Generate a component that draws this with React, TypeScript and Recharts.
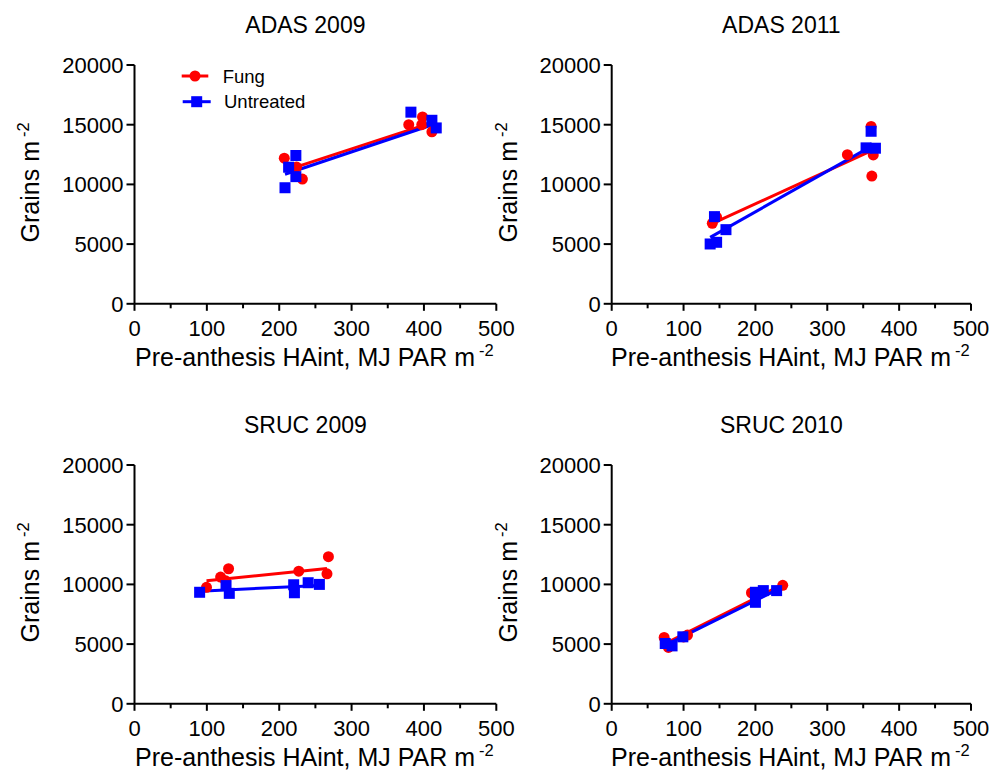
import React from 'react';
import { ScatterChart, Scatter, XAxis, YAxis, ReferenceLine, Legend, Label } from 'recharts';

const FONT = '"Liberation Sans", Arial, Helvetica, sans-serif';
const RED = '#ff0000';
const BLUE = '#0000ff';

type Pt = { hai: number; grains: number };

// Axis ticks
const xTicks = [0, 50, 100, 150, 200, 250, 300, 350, 400, 450, 500];
const xLabelled = [0, 100, 200, 300, 400, 500];
const yTicks = [0, 5000, 10000, 15000, 20000];

// ADAS 2009
const adas2009Fung: Pt[] = [
  { hai: 207, grains: 12200 }, { hai: 224, grains: 11450 }, { hai: 232, grains: 10450 },
  { hai: 379, grains: 15000 }, { hai: 398, grains: 15650 }, { hai: 397, grains: 15000 },
  { hai: 411, grains: 14400 },
];
const adas2009Untreated: Pt[] = [
  { hai: 208, grains: 9720 }, { hai: 213, grains: 11440 }, { hai: 223, grains: 12420 },
  { hai: 223, grains: 10650 }, { hai: 382, grains: 16050 }, { hai: 411, grains: 15370 },
  { hai: 417, grains: 14730 },
];
const adas2009FungFit: Pt[] = [{ hai: 207, grains: 11130 }, { hai: 410, grains: 15150 }];
const adas2009UntreatedFit: Pt[] = [{ hai: 208, grains: 10850 }, { hai: 417, grains: 15100 }];

// ADAS 2011
const adas2011Fung: Pt[] = [
  { hai: 140, grains: 6740 }, { hai: 146, grains: 7250 }, { hai: 328, grains: 12490 },
  { hai: 361, grains: 14850 }, { hai: 364, grains: 12470 }, { hai: 362, grains: 10700 },
];
const adas2011Untreated: Pt[] = [
  { hai: 143, grains: 7300 }, { hai: 137, grains: 5010 }, { hai: 146, grains: 5150 },
  { hai: 159, grains: 6210 }, { hai: 354, grains: 13060 }, { hai: 361, grains: 14450 },
  { hai: 367, grains: 13030 },
];
const adas2011FungFit: Pt[] = [{ hai: 139, grains: 6690 }, { hai: 364, grains: 12900 }];
const adas2011UntreatedFit: Pt[] = [{ hai: 137, grains: 5560 }, { hai: 363, grains: 13250 }];

// SRUC 2009
const sruc2009Fung: Pt[] = [
  { hai: 99.5, grains: 9760 }, { hai: 119, grains: 10610 }, { hai: 130, grains: 11310 },
  { hai: 126, grains: 10300 }, { hai: 227, grains: 11110 }, { hai: 266, grains: 10890 },
  { hai: 268, grains: 12320 },
];
const sruc2009Untreated: Pt[] = [
  { hai: 90, grains: 9340 }, { hai: 126.5, grains: 9900 }, { hai: 131, grains: 9250 },
  { hai: 220, grains: 9970 }, { hai: 221, grains: 9300 }, { hai: 240, grains: 10140 },
  { hai: 255.5, grains: 10000 },
];
const sruc2009FungFit: Pt[] = [{ hai: 99.5, grains: 10300 }, { hai: 266, grains: 11340 }];
const sruc2009UntreatedFit: Pt[] = [{ hai: 90, grains: 9430 }, { hai: 255.5, grains: 9910 }];

// SRUC 2010
const sruc2010Fung: Pt[] = [
  { hai: 73, grains: 5560 }, { hai: 79, grains: 4720 }, { hai: 105.5, grains: 5760 },
  { hai: 100, grains: 5600 }, { hai: 194.5, grains: 9300 }, { hai: 238, grains: 9920 },
];
const sruc2010Untreated: Pt[] = [
  { hai: 74.5, grains: 5050 }, { hai: 84, grains: 4850 }, { hai: 99, grains: 5610 },
  { hai: 200, grains: 8500 }, { hai: 200, grains: 9340 }, { hai: 211, grains: 9480 },
  { hai: 229.5, grains: 9480 },
];
const sruc2010FungFit: Pt[] = [{ hai: 73, grains: 5000 }, { hai: 238, grains: 10000 }];
const sruc2010UntreatedFit: Pt[] = [{ hai: 74, grains: 4900 }, { hai: 232, grains: 9600 }];

const W = 518;
const H = 400;
const YW = 100;
const XH = 70;
const PLOT_TOP = 65;
const PLOT_BOTTOM = 303.8;

const Dot = (p: any) => <circle cx={p.cx} cy={p.cy} r={5.5} fill={RED} />;
const Sq = (p: any) => <rect x={p.cx - 5.5} y={p.cy - 5.5} width={11} height={11} fill={BLUE} />;

const XTick = (p: any) => {
  const v = p.payload.value;
  const major = xLabelled.includes(v);
  return (
    <g>
      <line x1={p.x} x2={p.x} y1={p.y} y2={p.y + (major ? 7 : 4.5)} stroke="#000" strokeWidth={2} />
      {major && (
        <text x={p.x} y={p.y + 32.5} textAnchor="middle" fontSize={22} fontFamily={FONT} fill="#000">
          {v}
        </text>
      )}
    </g>
  );
};

const LegendBox = () => (
  <svg width={170} height={54} style={{ display: 'block' }}>
    <line x1={3.7} x2={30.3} y1={14} y2={14} stroke={RED} strokeWidth={3} />
    <circle cx={17} cy={14} r={5.5} fill={RED} />
    <text x={44.7} y={20.5} fontSize={18.5} fontFamily={FONT} fill="#000">Fung</text>
    <line x1={4.7} x2={32.7} y1={39.7} y2={39.7} stroke={BLUE} strokeWidth={3} />
    <rect x={13.2} y={34.2} width={11} height={11} fill={BLUE} />
    <text x={46} y={46.2} fontSize={18.5} fontFamily={FONT} fill="#000">Untreated</text>
  </svg>
);

type PanelProps = {
  title: string;
  left: number;
  top: number;
  plotLeft: number;
  plotRight: number;
  fung: Pt[];
  untreated: Pt[];
  fungFit: Pt[];
  untreatedFit: Pt[];
  showLegend?: boolean;
};

function Panel({ title, left, top, plotLeft, plotRight, fung, untreated, fungFit, untreatedFit, showLegend }: PanelProps) {
  const margin = { top: PLOT_TOP, left: plotLeft - YW, right: W - plotRight, bottom: H - PLOT_BOTTOM - XH };
  const cx = (plotLeft + plotRight) / 2;
  const cy = (PLOT_TOP + PLOT_BOTTOM) / 2 - 2;
  const yLabelX = plotLeft - 95;
  return (
    <div style={{ position: 'absolute', left, top, width: W, height: H }}>
      <ScatterChart width={W} height={H} margin={margin}>
        <XAxis
          type="number"
          dataKey="hai"
          domain={[0, 500]}
          ticks={xTicks}
          interval={0}
          height={XH}
          tickLine={false}
          tickSize={0}
          tickMargin={0}
          tick={<XTick />}
          axisLine={{ stroke: '#000', strokeWidth: 2 }}
        >
          <Label
            content={() => (
              <g>
                <text x={cx - 1} y={PLOT_BOTTOM + 62} textAnchor="middle" fontSize={25} fontFamily={FONT} fill="#000">
                  Pre-anthesis HAint, MJ PAR m<tspan dx={4} dy={-10} fontSize={16.5}>-2</tspan>
                </text>
                <text x={cx - 10} y={33} textAnchor="middle" fontSize={23} fontFamily={FONT} fill="#000">
                  {title}
                </text>
              </g>
            )}
          />
        </XAxis>
        <YAxis
          type="number"
          dataKey="grains"
          domain={[0, 20000]}
          ticks={yTicks}
          interval={0}
          width={YW}
          tickSize={8}
          tickMargin={3}
          tickLine={{ stroke: '#000', strokeWidth: 2 }}
          axisLine={{ stroke: '#000', strokeWidth: 2 }}
          tick={{ fill: '#000', fontSize: 22, fontFamily: FONT }}
        >
          <Label
            content={() => (
              <text
                x={yLabelX}
                y={cy}
                transform={`rotate(-90, ${yLabelX}, ${cy})`}
                textAnchor="middle"
                fontSize={25}
                fontFamily={FONT}
                fill="#000"
              >
                Grains m<tspan dx={4} dy={-10} fontSize={16.5}>-2</tspan>
              </text>
            )}
          />
        </YAxis>
        <Scatter name="Fung" data={fung} shape={Dot} isAnimationActive={false} />
        <Scatter name="Untreated" data={untreated} shape={Sq} isAnimationActive={false} />
        <ReferenceLine
          segment={[{ x: fungFit[0].hai, y: fungFit[0].grains }, { x: fungFit[1].hai, y: fungFit[1].grains }]}
          stroke={RED}
          strokeWidth={3}
        />
        <ReferenceLine
          segment={[{ x: untreatedFit[0].hai, y: untreatedFit[0].grains }, { x: untreatedFit[1].hai, y: untreatedFit[1].grains }]}
          stroke={BLUE}
          strokeWidth={3}
        />
        {showLegend && (
          <Legend
            layout="vertical"
            align="center"
            verticalAlign="middle"
            content={<LegendBox />}
            wrapperStyle={{ left: 178, top: 62, width: 170, height: 54 }}
          />
        )}
      </ScatterChart>
    </div>
  );
}

export default function App() {
  return (
    <div style={{ position: 'absolute', left: 0, top: 0, width: 995, height: 774, background: '#fff' }}>
      <Panel title="ADAS 2009" left={0} top={0} plotLeft={134.5} plotRight={496.3}
        fung={adas2009Fung} untreated={adas2009Untreated} fungFit={adas2009FungFit} untreatedFit={adas2009UntreatedFit} showLegend />
      <Panel title="ADAS 2011" left={477} top={0} plotLeft={134.7} plotRight={494}
        fung={adas2011Fung} untreated={adas2011Untreated} fungFit={adas2011FungFit} untreatedFit={adas2011UntreatedFit} />
      <Panel title="SRUC 2009" left={0} top={400} plotLeft={134.5} plotRight={496.3}
        fung={sruc2009Fung} untreated={sruc2009Untreated} fungFit={sruc2009FungFit} untreatedFit={sruc2009UntreatedFit} />
      <Panel title="SRUC 2010" left={477} top={400} plotLeft={134.7} plotRight={494}
        fung={sruc2010Fung} untreated={sruc2010Untreated} fungFit={sruc2010FungFit} untreatedFit={sruc2010UntreatedFit} />
    </div>
  );
}
